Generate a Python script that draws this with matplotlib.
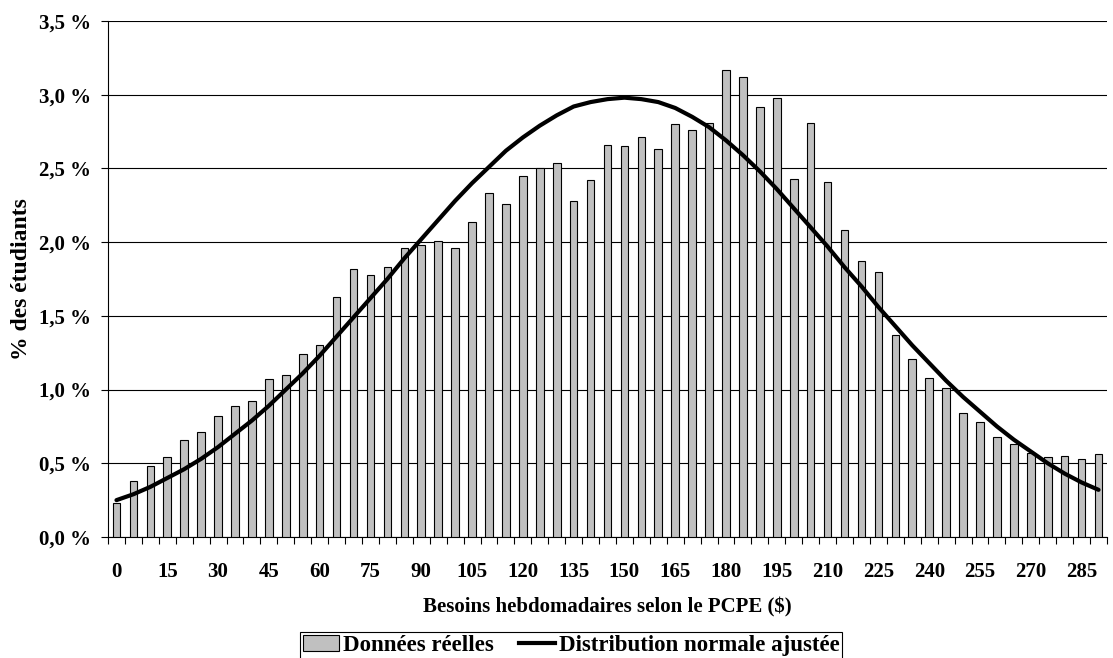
import matplotlib.pyplot as plt
import matplotlib.patches as patches
from matplotlib.lines import Line2D
import matplotlib.ticker as mticker
import numpy as np

# Weekly needs (PCPE) categories, $ step 5
besoins = list(range(0, 295, 5))

# Observed share of students (%)
donnees_reelles = [
    0.23, 0.38, 0.48, 0.54, 0.66, 0.71, 0.82, 0.89, 0.92, 1.07,
    1.10, 1.24, 1.30, 1.63, 1.82, 1.78, 1.83, 1.96, 1.98, 2.01,
    1.96, 2.14, 2.33, 2.26, 2.45, 2.50, 2.54, 2.28, 2.42, 2.66,
    2.65, 2.71, 2.63, 2.80, 2.76, 2.81, 3.17, 3.12, 2.92, 2.98,
    2.43, 2.81, 2.41, 2.08, 1.87, 1.80, 1.37, 1.21, 1.08, 1.01,
    0.84, 0.78, 0.68, 0.63, 0.57, 0.54, 0.55, 0.53, 0.56,
]

# Fitted normal curve (%) at each category
normale_ajustee = [
    0.25, 0.29, 0.34, 0.40, 0.46, 0.53, 0.61, 0.70, 0.79, 0.89,
    1.00, 1.11, 1.23, 1.36, 1.49, 1.62, 1.75, 1.89, 2.02, 2.15,
    2.28, 2.40, 2.51, 2.62, 2.71, 2.79, 2.86, 2.92, 2.95, 2.97,
    2.98, 2.97, 2.95, 2.91, 2.85, 2.78, 2.69, 2.59, 2.48, 2.36,
    2.23, 2.10, 1.97, 1.83, 1.70, 1.56, 1.43, 1.30, 1.18, 1.06,
    0.95, 0.85, 0.75, 0.66, 0.58, 0.50, 0.43, 0.37, 0.32,
]

serif = ['Liberation Serif', 'DejaVu Serif']

fig = plt.figure(figsize=(11.13, 6.58), dpi=100)
ax = fig.add_axes([108 / 1113, 1 - 537 / 658, (1107 - 108) / 1113, (537 - 21) / 658])

x = np.arange(len(besoins))

ax.bar(x, donnees_reelles, width=0.45, color='#c0c0c0', edgecolor='black',
       linewidth=0.8, zorder=3)
ax.plot(x, normale_ajustee, color='black', linewidth=3, zorder=4,
        solid_capstyle='round')

ax.set_xlim(-0.5, len(besoins) - 0.5)
ax.set_ylim(0, 3.5)

# y axis
ax.yaxis.set_major_locator(mticker.MultipleLocator(0.5))
ax.yaxis.set_major_formatter(
    mticker.FuncFormatter(lambda v, p: f'{v:.1f} %'.replace('.', ',')))
ax.grid(axis='y', color='black', linewidth=0.8, zorder=0)
ax.tick_params(axis='y', direction='out', length=5, width=0.8, pad=7)

# x axis: labels every 3 categories, tick marks between categories
ax.set_xticks(x[::3])
ax.set_xticklabels([str(b) for b in besoins[::3]])
ax.set_xticks(np.arange(-0.5, len(besoins), 1), minor=True)
ax.tick_params(axis='x', which='major', length=0, pad=18)
ax.tick_params(axis='x', which='minor', direction='out', length=5, width=0.8)

for lab in ax.get_xticklabels() + ax.get_yticklabels():
    lab.set_fontfamily(serif)
    lab.set_fontweight('bold')
    lab.set_fontsize(15)

ax.spines['top'].set_visible(False)
ax.spines['right'].set_visible(False)
ax.spines['left'].set_linewidth(0.8)
ax.spines['bottom'].set_linewidth(0.8)

ax.set_xlabel('Besoins hebdomadaires selon le PCPE ($)', fontfamily=serif,
              fontweight='bold', fontsize=15, labelpad=11)
ax.set_ylabel('% des étudiants', fontfamily=serif, fontweight='bold',
              fontsize=17, labelpad=5)

handles = [
    patches.Patch(facecolor='#c0c0c0', edgecolor='black', linewidth=0.8,
                  label='Données réelles'),
    Line2D([0], [0], color='black', linewidth=3,
           label='Distribution normale ajustée'),
]
leg = fig.legend(handles=handles, loc='upper center',
                 bbox_to_anchor=(571 / 1113, 1 - 632 / 658), ncol=2,
                 frameon=True, fancybox=False, framealpha=1,
                 prop={'family': serif, 'weight': 'bold', 'size': 16.5},
                 handlelength=1.6, handletextpad=0.15, columnspacing=1.1,
                 borderpad=0.12, borderaxespad=0)
leg.get_frame().set_edgecolor('black')
leg.get_frame().set_linewidth(0.8)

fig.savefig('out.png', dpi=100, facecolor='white')
